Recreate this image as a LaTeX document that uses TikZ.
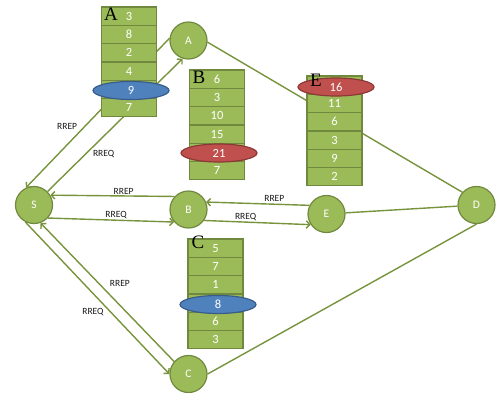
\documentclass[tikz,border=0pt]{standalone}
\usepackage{fontspec}
\setmainfont{Carlito}
\newfontfamily\stackletter{Liberation Serif}
\usetikzlibrary{positioning,shapes.geometric,arrows.meta}
\definecolor{leaf}{HTML}{9BBB59}
\definecolor{leafdark}{HTML}{71893F}
\definecolor{linegreen}{HTML}{77933C}
\definecolor{ovalblue}{HTML}{4F81BD}
\definecolor{ovalbluedark}{HTML}{385D8A}
\definecolor{ovalred}{HTML}{C0504D}
\definecolor{ovalreddark}{HTML}{8C3836}

\begin{document}
\begin{tikzpicture}[x=1pt, y=-1pt,
    station/.style={circle, draw=leafdark, line width=1.2pt, fill=leaf, minimum size=37pt, inner sep=0pt, text=white, font=\fontsize{11.5}{13}\selectfont},
    cell/.style={rectangle, draw=leafdark, line width=1.2pt, fill=leaf, minimum width=55pt, minimum height=18.3pt, inner sep=0pt, text=white, font=\fontsize{12.5}{14}\selectfont},
    hotblue/.style={ellipse, draw=ovalbluedark, line width=1.2pt, fill=ovalblue, minimum width=76pt, minimum height=18pt, inner sep=0pt, text=white, font=\fontsize{12.5}{14}\selectfont},
    hotred/.style={hotblue, draw=ovalreddark, fill=ovalred},
    tag/.style={inner sep=0pt, font=\stackletter\fontsize{19}{19}\selectfont},
    msg/.style={inner sep=1pt, text=black!90, font=\fontsize{9.5}{10}\selectfont},
    link/.style={draw=linegreen, line width=1.4pt},
    sent/.style={link, -{Straight Barb[length=3.5pt,width=7.5pt]}}]
    \useasboundingbox (0,0) rectangle (501,392);

    % Stations
    \node[station] (S) at (34,205) {S};
    \node[station] (A) at (188.5,40.5) {A};
    \node[station] (B) at (188.5,209.5) {B};
    \node[station] (E) at (326.5,214) {E};
    \node[station] (D) at (476.5,205) {D};
    \node[station] (C) at (188.5,374) {C};

    % Plain links
    \draw[link] (A.-5) -- (D.138);
    \draw[link] (E) -- (D);
    \draw[link] (C.0) -- (D.270);

    % Route request / reply
    \draw[sent] (A.173) -- (S.115) node[msg, pos=0.59, left=6pt] {RREP};
    \draw[sent] (S.45) -- (A.252) node[msg, pos=0.28, right=6pt] {RREQ};
    \draw[sent] (B.137) -- (S.31) node[msg, pos=0.41, above=0pt] {RREP};
    \draw[sent] (S.317) -- (B.221) node[msg, pos=0.54, above=0pt] {RREQ};
    \draw[sent] (E.153) -- (B.23) node[msg, pos=0.34, above=1pt] {RREP};
    \draw[sent] (B.325) -- (E.214) node[msg, pos=0.39, above=0pt] {RREQ};
    \draw[sent] (C.139) -- (S.290) node[msg, pos=0.56, right=9pt] {RREP};
    \draw[sent] (S.243) -- (C.180) node[msg, pos=0.59, left=5pt] {RREQ};

    % Stack at A
    \node[cell] (qa1) at (129,16.2) {3};
    \node[cell] (qa2) at (129,34.5) {8};
    \node[cell] (qa3) at (129,52.8) {2};
    \node[cell] (qa4) at (129,71.1) {4};
    \node[cell] (qa5) at (129,89.4) {};
    \node[cell] (qa6) at (129,107.7) {7};
    \node[hotblue] (qa9) at (131,90.5) {9};
    \node[tag] (ta) at (111,14) {A};

    % Stack at B
    \node[cell] (qb1) at (217,79.2) {6};
    \node[cell] (qb2) at (217,97.5) {3};
    \node[cell] (qb3) at (217,115.8) {10};
    \node[cell] (qb4) at (217,134.1) {15};
    \node[cell] (qb5) at (217,152.4) {};
    \node[cell] (qb6) at (217,170.7) {7};
    \node[hotred] (qb21) at (219,153) {21};
    \node[tag] (tb) at (199,77) {B};

    % Stack at E
    \node[cell] (qe1) at (334.5,85.2) {};
    \node[cell] (qe2) at (334.5,103.5) {11};
    \node[cell] (qe3) at (334.5,121.8) {6};
    \node[cell] (qe4) at (334.5,140.1) {3};
    \node[cell] (qe5) at (334.5,158.4) {9};
    \node[cell] (qe6) at (334.5,176.7) {2};
    \node[hotred] (qe16) at (336,87) {16};
    \node[tag] (te) at (316,80) {E};

    % Stack at C
    \node[cell] (qc1) at (215.5,248.2) {5};
    \node[cell] (qc2) at (215.5,266.5) {7};
    \node[cell] (qc3) at (215.5,284.8) {1};
    \node[cell] (qc4) at (215.5,303.1) {};
    \node[cell] (qc5) at (215.5,321.4) {6};
    \node[cell] (qc6) at (215.5,339.7) {3};
    \node[hotblue] (qc8) at (218,304.5) {8};
    \node[tag] (tc) at (198,242) {C};
\end{tikzpicture}
\end{document}
